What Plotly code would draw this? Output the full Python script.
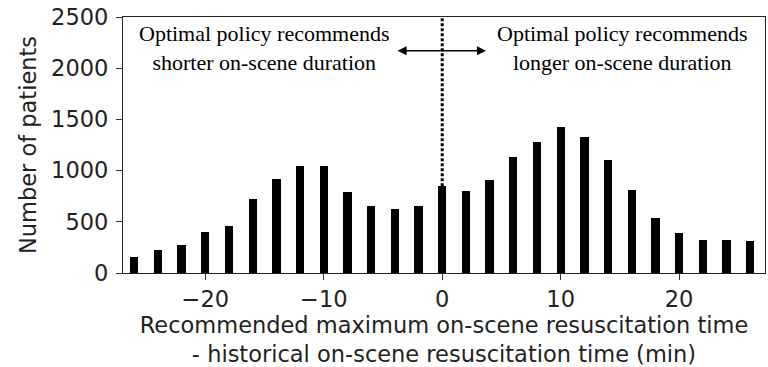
import plotly.graph_objects as go

# Difference between recommended and historical on-scene time (min)
minutes = [-26, -24, -22, -20, -18, -16, -14, -12, -10, -8, -6, -4, -2, 0,
           2, 4, 6, 8, 10, 12, 14, 16, 18, 20, 22, 24, 26]
patients = [155, 220, 270, 400, 462, 720, 915, 1045, 1045, 788, 658, 625, 658, 848,
            797, 908, 1137, 1281, 1428, 1330, 1105, 814, 536, 392, 327, 327, 310]

x_ticks = [-20, -10, 0, 10, 20]
y_ticks = [0, 500, 1000, 1500, 2000, 2500]

left_note = "Optimal policy recommends<br>shorter on-scene duration"
right_note = "Optimal policy recommends<br>longer on-scene duration"

sans = "DejaVu Sans"
serif = "Liberation Serif"
sans_size = 22.5
serif_size = 22
ink = "#222"

fig = go.Figure()
fig.add_trace(go.Bar(x=minutes, y=patients, width=0.7,
                     marker=dict(color="black", line=dict(width=0))))

zero_height = patients[minutes.index(0)]
fig.add_shape(type="line", x0=0, x1=0, y0=zero_height, y1=2500,
              xref="x", yref="y", line=dict(color="black", width=3, dash="3px,2px"))

# Double-headed arrow around the zero line
fig.add_annotation(x=3.7, y=2170, ax=-3.9, ay=2170, xref="x", yref="y",
                   axref="x", ayref="y", text="", showarrow=True,
                   arrowhead=2, startarrowhead=2, arrowside="end+start",
                   arrowsize=1.3, startarrowsize=1.3, arrowwidth=1.4, arrowcolor="black")

fig.add_annotation(x=-15, y=2200, xref="x", yref="y", text=left_note, showarrow=False,
                   font=dict(family=serif, size=serif_size, color="black"), align="center")
fig.add_annotation(x=15.2, y=2200, xref="x", yref="y", text=right_note, showarrow=False,
                   font=dict(family=serif, size=serif_size, color="black"), align="center")

fig.update_layout(
    width=768, height=367,
    margin=dict(l=123, r=3, t=17, b=94),
    paper_bgcolor="white", plot_bgcolor="white",
    showlegend=False, bargap=0,
    font=dict(family=sans, size=sans_size, color=ink),
)
fig.update_xaxes(
    range=[-26.95, 27.25], tickvals=x_ticks, ticktext=["\u221220", "\u221210", "0", "10", "20"],
    ticks="outside", ticklen=6, tickwidth=1.2, tickcolor="#333",
    showline=True, linecolor=ink, linewidth=1.3, mirror=True, showgrid=False, zeroline=False,
    tickfont=dict(family=sans, size=sans_size, color=ink),
    title=dict(text="Recommended maximum on-scene resuscitation time<br>- historical on-scene resuscitation time (min)",
               font=dict(family=sans, size=sans_size, color=ink), standoff=6),
)
fig.update_yaxes(
    range=[0, 2500], tickvals=y_ticks,
    ticks="outside", ticklen=6, tickwidth=1.2, tickcolor="#333",
    showline=True, linecolor=ink, linewidth=1.3, mirror=True, showgrid=False, zeroline=False,
    tickfont=dict(family=sans, size=sans_size, color=ink), ticklabelstandoff=3,
    title=dict(text="Number of patients", font=dict(family=sans, size=sans_size, color=ink), standoff=8),
)

fig.write_html("out.html")
